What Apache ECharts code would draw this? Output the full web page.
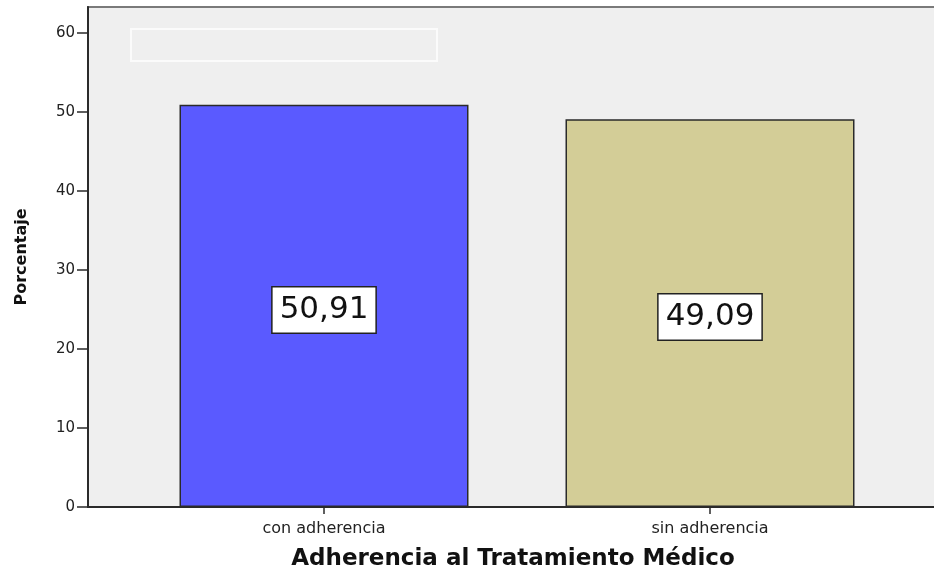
<!DOCTYPE html>
<html>
<head>
<meta charset="utf-8">
<script src="https://cdn.jsdelivr.net/npm/echarts@6/dist/echarts.min.js"></script>
<style>html,body{margin:0;padding:0;background:#fff}#c{width:934px;height:573px}</style>
</head>
<body>
<div id="c"></div>
<script>
const categories = ['con adherencia', 'sin adherencia'];
const percentages = [50.91, 49.09];
const yTicks = [0, 10, 20, 30, 40, 50, 60];
const yMax = 63.3;
const barColors = ['#5a5aff', '#d3cd97'];

const chart = echarts.init(document.getElementById('c'));
const font = '"DejaVu Sans", sans-serif';
const gridTop = 7, gridBottom = 66;
chart.setOption({
  animation: false,
  backgroundColor: '#ffffff',
  grid: [
    {left: 88, right: -4, top: gridTop, bottom: gridBottom, show: true, outerBoundsMode: 'none', containLabel: false,
     backgroundColor: '#efefef', borderColor: '#7a7a7a', borderWidth: 2},
    {left: 131, width: 772, top: gridTop, bottom: gridBottom, outerBoundsMode: 'none', containLabel: false}
  ],
  graphic: [{
    type: 'rect', shape: {x: 131, y: 29, width: 306, height: 32},
    style: {fill: 'none', stroke: '#fbfbfb', lineWidth: 2}, silent: true
  }],
  xAxis: [
    {gridIndex: 0, type: 'value', min: 0, max: 1,
     axisLine: {show: true, onZero: false, lineStyle: {color: '#2a2a2a', width: 2}},
     axisTick: {show: false}, axisLabel: {show: false}, splitLine: {show: false},
     name: 'Adherencia al Tratamiento Médico', nameLocation: 'middle', nameGap: 41,
     nameTextStyle: {fontFamily: font, fontWeight: 'bold', fontSize: 23, color: '#111'}},
    {gridIndex: 1, type: 'category', data: categories,
     axisLine: {show: false},
     axisTick: {show: true, alignWithLabel: true, length: 7, lineStyle: {color: '#2a2a2a', width: 1.5}},
     axisLabel: {fontFamily: font, fontSize: 16, color: '#222', margin: 14}}
  ],
  yAxis: [
    {gridIndex: 0, type: 'value', min: 0, max: yMax,
     axisLine: {show: true, onZero: false, lineStyle: {color: '#2a2a2a', width: 2}},
     axisTick: {show: true, length: 11, customValues: yTicks, lineStyle: {color: '#2a2a2a', width: 1.5}},
     axisLabel: {customValues: yTicks, fontFamily: font, fontSize: 15, color: '#222', margin: 13},
     splitLine: {show: false},
     name: 'Porcentaje', nameLocation: 'middle', nameGap: 58, nameRotate: 90,
     nameTextStyle: {fontFamily: font, fontWeight: 'bold', fontSize: 16, color: '#111'}},
    {gridIndex: 1, type: 'value', min: 0, max: yMax, show: false}
  ],
  series: [{
    type: 'bar', xAxisIndex: 1, yAxisIndex: 1, barWidth: 289,
    data: percentages.map((v, i) => ({value: v, itemStyle: {color: barColors[i]}})),
    itemStyle: {borderColor: '#2a2a2a', borderWidth: 1.5},
    label: {
      show: true, position: 'inside', offset: [0, 4],
      formatter: p => p.value.toFixed(2).replace('.', ','),
      fontFamily: font, fontSize: 31, color: '#111',
      backgroundColor: '#ffffff', borderColor: '#222', borderWidth: 1.5,
      padding: [8, 7, 6, 7]
    }
  }]
});
</script>
</body>
</html>
